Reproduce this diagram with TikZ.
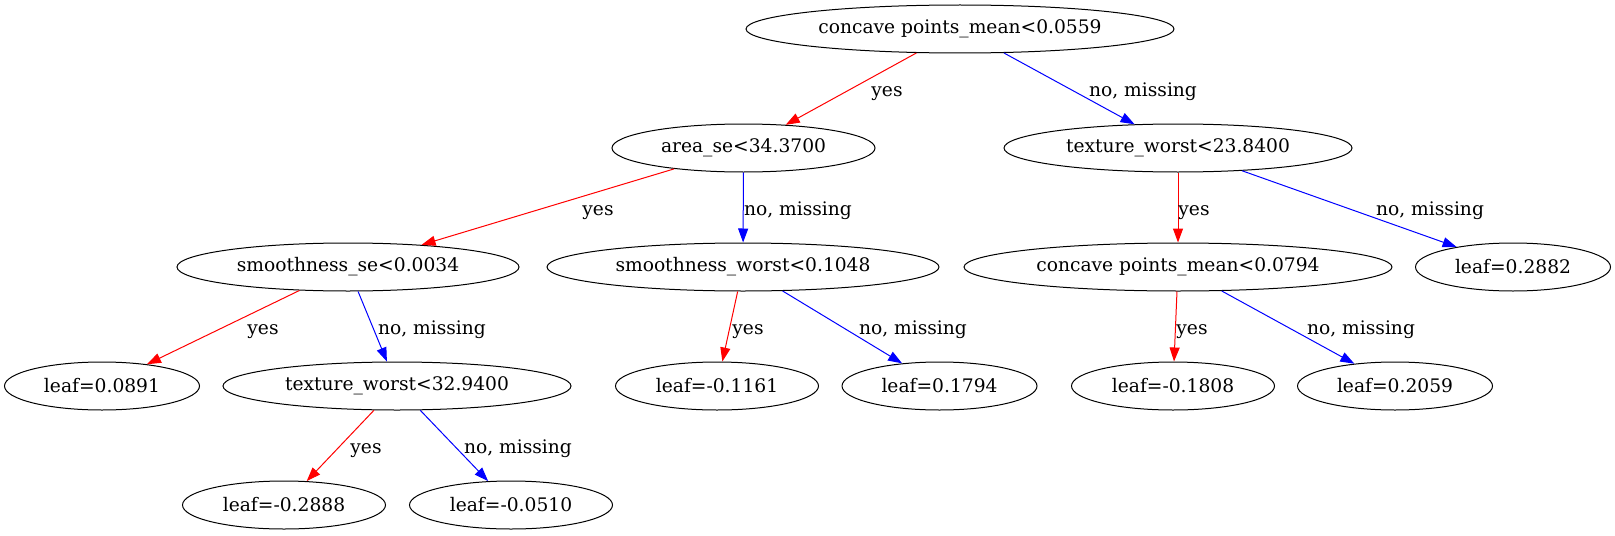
\documentclass[tikz,border=0pt]{standalone}
\usepackage{fontspec}
\setmainfont{DejaVu Serif}
\usetikzlibrary{shapes.geometric,arrows.meta}

\begin{document}
\begin{tikzpicture}[x=0.75pt,y=-0.75pt,
  treenode/.style={draw=black,ellipse,line width=0.75pt,inner sep=0pt,
    minimum height=36pt,font=\fontsize{14pt}{17pt}\selectfont},
  leafpos/.style={treenode,minimum width=146.25pt},
  leafneg/.style={treenode,minimum width=152.25pt},
  yesedge/.style={draw=red,line width=0.75pt,-{Triangle[length=10.5pt,width=7.5pt]}},
  noedge/.style={draw=blue,line width=0.75pt,-{Triangle[length=10.5pt,width=7.5pt]}},
  edgelabel/.style={anchor=base,inner sep=0pt,font=\fontsize{14pt}{17pt}\selectfont}]
\path[use as bounding box,fill=white] (0,0) rectangle (1615,535);

% splits
\node[treenode,minimum width=321pt] (root) at (960,29) {concave points\_mean<0.0559};
\node[treenode,minimum width=197.25pt] (area) at (743.5,148) {area\_se<34.3700};
\node[treenode,minimum width=261pt] (texwa) at (1178,148) {texture\_worst<23.8400};
\node[treenode,minimum width=256.5pt] (smse) at (348,267) {smoothness\_se<0.0034};
\node[treenode,minimum width=294pt] (smworst) at (743,267) {smoothness\_worst<0.1048};
\node[treenode,minimum width=321pt] (cpmean) at (1178,267) {concave points\_mean<0.0794};
\node[treenode,minimum width=261pt] (texwb) at (397,386) {texture\_worst<32.9400};

% leaves
\node[leafpos] (leafa) at (1513,267) {leaf=0.2882};
\node[leafpos] (leafb) at (102,386) {leaf=0.0891};
\node[leafneg] (leafc) at (717,386) {leaf=-0.1161};
\node[leafpos] (leafd) at (939.5,386) {leaf=0.1794};
\node[leafneg] (leafe) at (1173,386) {leaf=-0.1808};
\node[leafpos] (leaff) at (1395,386) {leaf=0.2059};
\node[leafneg] (leafg) at (284,505) {leaf=-0.2888};
\node[leafneg] (leafh) at (511,505) {leaf=-0.0510};

% edges
\draw[yesedge] (root) -- (area);
\draw[noedge] (root) -- (texwa);
\draw[yesedge] (area) -- (smse);
\draw[noedge] (area) -- (smworst);
\draw[yesedge] (texwa) -- (cpmean);
\draw[noedge] (texwa) -- (leafa);
\draw[yesedge] (smse) -- (leafb);
\draw[noedge] (smse) -- (texwb);
\draw[yesedge] (smworst) -- (leafc);
\draw[noedge] (smworst) -- (leafd);
\draw[yesedge] (cpmean) -- (leafe);
\draw[noedge] (cpmean) -- (leaff);
\draw[yesedge] (texwb) -- (leafg);
\draw[noedge] (texwb) -- (leafh);

% edge labels
\node[edgelabel] (lyesa) at (887,96) {yes};
\node[edgelabel] (lnoa) at (1143,96) {no, missing};
\node[edgelabel] (lyesb) at (598,215) {yes};
\node[edgelabel] (lnob) at (798,215) {no, missing};
\node[edgelabel] (lyesc) at (1194,215) {yes};
\node[edgelabel] (lnoc) at (1430,215) {no, missing};
\node[edgelabel] (lyesd) at (263,334) {yes};
\node[edgelabel] (lnod) at (432,334) {no, missing};
\node[edgelabel] (lyese) at (748,334) {yes};
\node[edgelabel] (lnoe) at (913,334) {no, missing};
\node[edgelabel] (lyesf) at (1192,334) {yes};
\node[edgelabel] (lnof) at (1361,334) {no, missing};
\node[edgelabel] (lyesg) at (366,453) {yes};
\node[edgelabel] (lnog) at (518,453) {no, missing};
\end{tikzpicture}
\end{document}
